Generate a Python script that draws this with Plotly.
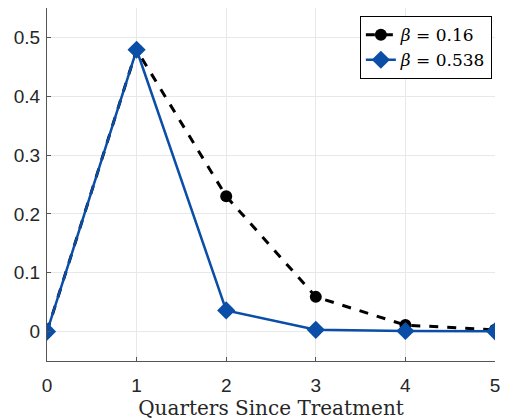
import plotly.graph_objects as go

quarters = [0, 1, 2, 3, 4, 5]
beta_low = [0.0, 0.479, 0.23, 0.059, 0.011, 0.003]
beta_high = [0.0, 0.479, 0.036, 0.003, 0.001, 0.0005]
x_ticks = [0, 1, 2, 3, 4, 5]
y_ticks = [0, 0.1, 0.2, 0.3, 0.4, 0.5]
y_labels = ["0", "0.1", "0.2", "0.3", "0.4", "0.5"]

fig = go.Figure()
fig.add_trace(go.Scatter(
    x=quarters, y=beta_low, mode="lines+markers",
    name="<i>β</i> = 0.16",
    line=dict(color="black", width=3, dash="dash"),
    marker=dict(symbol="circle", size=12, color="black"),
))
fig.add_trace(go.Scatter(
    x=quarters, y=beta_high, mode="lines+markers",
    name="<i>β</i> = 0.538",
    line=dict(color="#0a4ea8", width=2.5),
    marker=dict(symbol="diamond", size=14, color="#0a4ea8"),
))

axis_common = dict(
    showgrid=True, gridcolor="#e8e8e8", gridwidth=1,
    showline=True, linecolor="#555555", linewidth=1,
    ticks="inside", ticklen=4, tickcolor="#555555",
    tickfont=dict(family="Liberation Sans, Arial", size=19, color="#262626"),
    zeroline=False,
)

fig.update_layout(
    width=508, height=420,
    margin=dict(l=47, r=11, t=8, b=59),
    paper_bgcolor="white", plot_bgcolor="white",
    xaxis=dict(range=[0, 5], tickvals=x_ticks, ticktext=[str(v) for v in x_ticks],
               ticklabelstandoff=7,
               title=dict(text="Quarters Since Treatment", standoff=0,
                          font=dict(family="DejaVu Serif", size=20, color="#262626")),
               **axis_common),
    yaxis=dict(range=[-0.05, 0.55], tickvals=y_ticks, ticktext=y_labels,
               ticklabelstandoff=2, **axis_common),
    legend=dict(x=0.993, y=0.977, xanchor="right", yanchor="top",
                bgcolor="white", bordercolor="black", borderwidth=1,
                font=dict(family="DejaVu Serif", size=17, color="black"),
                itemwidth=30, tracegroupgap=0, traceorder="normal"),
    showlegend=True,
)

fig.write_html("out.html")
